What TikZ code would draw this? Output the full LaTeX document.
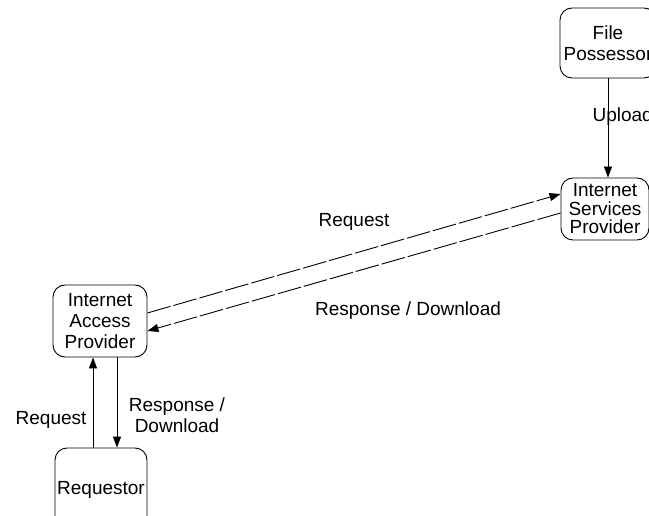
\documentclass[tikz,border=0pt]{standalone}
\usepackage{fontspec}
\setmainfont{Liberation Sans}
\usetikzlibrary{arrows.meta}

\begin{document}
\begin{tikzpicture}[x=1pt,y=-1pt]
				\tikzstyle{every node}=[font=\fontsize{19}{21}\selectfont]
				\tikzstyle{party}=[draw,rounded corners=12pt,align=center,inner sep=0pt,line width=0.9pt]
				\tikzstyle{flow}=[draw,line width=0.9pt,-{Triangle[length=11pt,width=8pt]}]
				\tikzstyle{netflow}=[flow,dash pattern=on 24pt off 3pt]
				\useasboundingbox (0,0) rectangle (649,516);
				\clip (0,0) rectangle (649,516);
				% parties
				\node[party,minimum width=96pt,minimum height=70pt] (fp) at (608,43) {File\\Possessor};
				\node[party,minimum width=88pt,minimum height=62pt,font=\fontsize{19}{18.5}\selectfont] (isp) at (605,209) {Internet\\Services\\Provider};
				\node[party,minimum width=94pt,minimum height=72pt] (iap) at (100,321) {Internet\\Access\\Provider};
				\node[party,minimum width=92pt,minimum height=84pt] (req) at (101,490) {Requestor};
				% upload
				\draw[flow] (fp.south) -- (fp.south |- isp.north);
				\node[anchor=west] (upl) at (589,117) {Upload};
				% between the providers
				\draw[netflow] ([yshift=8pt]iap.east) -- ([yshift=15pt]isp.west);
				\draw[netflow] ([yshift=-4pt]isp.west) -- ([yshift=-10pt]iap.east);
				\node (rq1) at (354,222) {Request};
				\node (rs1) at (408,311) {Response / Download};
				% requestor side
				\draw[flow] ([xshift=-8pt]req.north) -- ([xshift=-8pt]req.north |- iap.south);
				\draw[flow] ([xshift=17pt]iap.south) -- ([xshift=17pt]iap.south |- req.north);
				\node[anchor=east] (rq2) at (90,420) {Request};
				\node[align=center] (rs2) at (177,415) {Response /\\Download};
\end{tikzpicture}
\end{document}
